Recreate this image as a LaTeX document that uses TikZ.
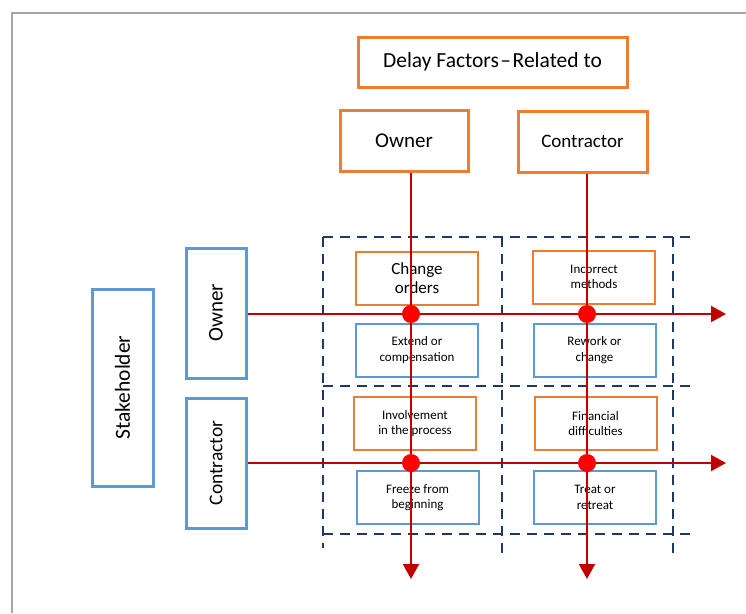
\documentclass[tikz,border=0pt]{standalone}
\usepackage{fontspec}
\setmainfont{Carlito}
\usetikzlibrary{arrows.meta}
\definecolor{orng}{HTML}{ED7D31}
\definecolor{blu}{HTML}{5B9BD5}
\definecolor{navy}{HTML}{1F3864}
\definecolor{dred}{HTML}{C00000}
\definecolor{frame}{HTML}{A6A6A6}
\tikzset{
  bigo/.style={draw=orng, line width=3pt, inner sep=0pt, align=center},
  bigb/.style={draw=blu, line width=3pt, inner sep=0pt, align=center},
  smo/.style={draw=orng, line width=2pt, inner sep=0pt, align=center, minimum width=122pt, minimum height=53pt, font=\fontsize{13}{15.5}\selectfont},
  smb/.style={draw=blu, line width=2pt, inner sep=0pt, align=center, minimum width=122pt, minimum height=53pt, font=\fontsize{13}{15.5}\selectfont},
  dsh/.style={draw=navy, line width=2.2pt, dash pattern=on 10pt off 7pt},
  arr/.style={draw=dred, line width=2pt, -{Triangle[width=16pt,length=15pt]}},
  dot/.style={circle, fill=red, inner sep=0pt, minimum size=18pt}
}
\begin{document}
\begin{tikzpicture}[x=1pt,y=-1pt]
\useasboundingbox (0,0) rectangle (746,613);
\draw[frame, line width=2pt] (12,613) -- (12,13) -- (746,13);

% dashed grid
\draw[dsh] (323,237) -- (692,237);
\draw[dsh] (323,386) -- (692,386);
\draw[dsh] (323,534) -- (690,534);
\draw[dsh] (323,237) -- (323,548);
\draw[dsh] (502,237) -- (502,553);
\draw[dsh] (673,237) -- (673,553);

% header boxes
\node[bigo, minimum width=269pt, minimum height=50pt, font=\fontsize{21.5}{24}\selectfont] (title) at (492.5,62) {Delay Factors\hspace{1.5pt}--\hspace{1.5pt}Related to};
\node[bigo, minimum width=128pt, minimum height=61pt, font=\fontsize{21}{24}\selectfont] (ownT) at (404,140.5) {Owner};
\node[bigo, minimum width=129pt, minimum height=61pt, font=\fontsize{19}{22}\selectfont] (conT) at (582.5,141.5) {Contractor};

% left boxes
\node[bigb, rotate=90, minimum width=197pt, minimum height=61pt, font=\fontsize{21.5}{24}\selectfont] (stake) at (122.5,387.5) {Stakeholder};
\node[bigb, rotate=90, minimum width=130pt, minimum height=60pt, font=\fontsize{21}{24}\selectfont] (ownL) at (216,313) {Owner};
\node[bigb, rotate=90, minimum width=130pt, minimum height=60pt, font=\fontsize{19.5}{22}\selectfont] (conL) at (216,463) {Contractor};

% inner boxes
\node[smo, font=\fontsize{17}{19}\selectfont] (co) at (417,278) {Change\\orders};
\node[smb] (ext) at (417,350) {Extend or\\compensation};
\node[smo] (inc) at (594,277) {Incorrect\\methods};
\node[smb] (rew) at (594.5,350) {Rework or\\change};
\node[smo] (inv) at (415,423.5) {Involvement\\in the process};
\node[smb] (frz) at (417.5,497.5) {Freeze from\\beginning};
\node[smo] (fin) at (595.5,423.5) {Financial\\difficulties};
\node[smb] (trt) at (595,497.5) {Treat or\\retreat};

% arrow ends
\coordinate (v1) at (411,579);
\coordinate (v2) at (587,579);
\coordinate (h1) at (726,314);
\coordinate (h2) at (726,463);

\draw[arr] (ownT.south -| v1) -- (v1);
\draw[arr] (conT.south -| v2) -- (v2);
\draw[arr] (ownL.south |- h1) -- (h1);
\draw[arr] (conL.south |- h2) -- (h2);

% dots
\node[dot] (d11) at (411,314) {};
\node[dot] (d12) at (587,314) {};
\node[dot] (d21) at (411,463) {};
\node[dot] (d22) at (587,463) {};
\end{tikzpicture}
\end{document}
